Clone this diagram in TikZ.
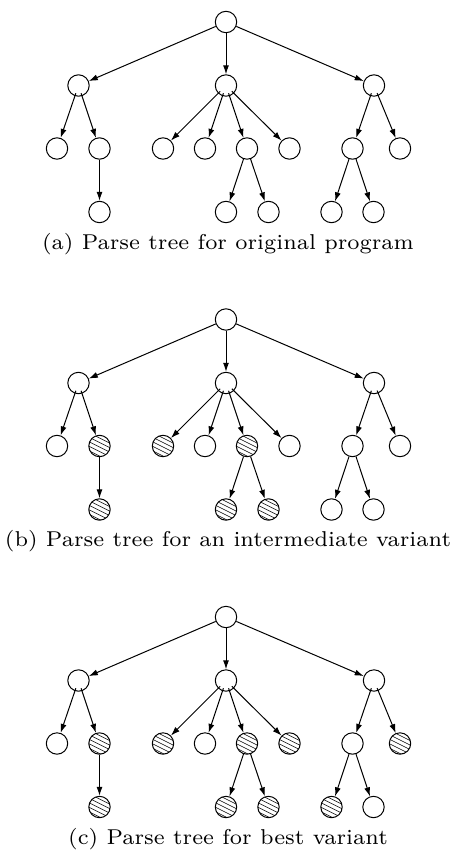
\documentclass[tikz,border=0pt]{standalone}
\usetikzlibrary{arrows.meta}
\tikzset{
  tn/.style={circle,draw,line width=1pt,minimum size=21.4pt,inner sep=0pt},
  hn/.style={path picture={
      \foreach \i in {-30,-25.5,...,38}{
        \draw[line width=0.6pt] ([xshift=-14pt,yshift=\i pt]path picture bounding box.center) -- ++(28,14);
      }}},
  ar/.style={-{Latex[length=9pt,width=6pt]},line width=1pt},
  ar2/.style={ar,shorten <=-3pt},
  captext/.style={anchor=base,inner sep=0pt},
  xL2/.style={},xL2a/.style={},xM1/.style={},xM3/.style={},xM3a/.style={},xM3b/.style={},
  xM4/.style={},xR2/.style={},xR1a/.style={}
}
\newcommand\capfont{\fontsize{7}{8}\selectfont}
\newcommand\capscale{3.07}
\newcommand\ptree[2]{%
  \node[tn] (#1r) at (226,22) {};
  \node[tn] (#1L) at (78.5,85.5) {};
  \node[tn] (#1M) at (226,85.5) {};
  \node[tn] (#1R) at (374,85.5) {};
  \node[tn] (#1L1) at (57,148.5) {};
  \node[tn,xL2] (#1L2) at (99.5,148.5) {};
  \node[tn,xM1] (#1M1) at (163,148.5) {};
  \node[tn] (#1M2) at (205,148.5) {};
  \node[tn,xM3] (#1M3) at (247,148.5) {};
  \node[tn,xM4] (#1M4) at (289.5,148.5) {};
  \node[tn] (#1R1) at (352.5,148.5) {};
  \node[tn,xR2] (#1R2) at (400,148.5) {};
  \node[tn,xL2a] (#1L2a) at (99.5,212) {};
  \node[tn,xM3a] (#1M3a) at (226,212) {};
  \node[tn,xM3b] (#1M3b) at (268.5,212) {};
  \node[tn,xR1a] (#1R1a) at (331.5,212) {};
  \node[tn] (#1R1b) at (373.5,212) {};
  \foreach \a/\b in {r/L,r/M,r/R,L2/L2a,M3/M3a,M3/M3b,R1/R1a,R1/R1b}
    \draw[ar] (#1\a) -- (#1\b);
  \foreach \a/\b in {L/L1,L/L2,M/M1,M/M2,M/M3,M/M4,R/R1,R/R2}
    \draw[ar2] (#1\a) -- (#1\b);
  \node[captext] (#1cap) at (228,249) {\scalebox{\capscale}{\capfont #2}};
}
\begin{document}
\begin{tikzpicture}[x=1pt,y=-1pt]
\useasboundingbox (0,0) rectangle (453,851);
\begin{scope}
  \ptree{a}{(a) Parse tree for original program}
\end{scope}
\begin{scope}[shift={(0,297.5)}]
  \tikzset{xL2/.style=hn,xL2a/.style=hn,xM1/.style=hn,xM3/.style=hn,xM3a/.style=hn,xM3b/.style=hn}
  \ptree{b}{(b) Parse tree for an intermediate variant}
\end{scope}
\begin{scope}[shift={(0,595)}]
  \tikzset{xL2/.style=hn,xL2a/.style=hn,xM1/.style=hn,xM3/.style=hn,xM3a/.style=hn,xM3b/.style=hn,
    xM4/.style=hn,xR2/.style=hn,xR1a/.style=hn}
  \ptree{c}{(c) Parse tree for best variant}
\end{scope}
\end{tikzpicture}
\end{document}
